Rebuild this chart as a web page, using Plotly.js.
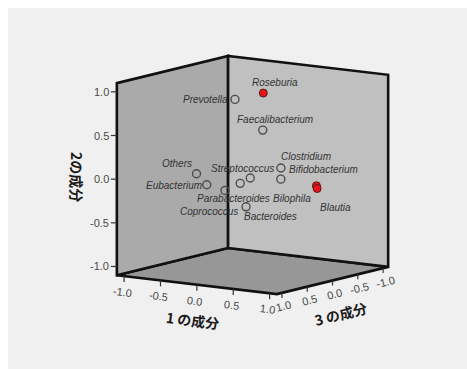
<!DOCTYPE html>
<html><head><meta charset="utf-8">
<script src="https://cdn.plot.ly/plotly-3.0.1.min.js"></script>
<style>html,body{margin:0;padding:0;background:#fff;overflow:hidden}#plot{width:467px;height:369px;}</style>
</head><body><div id="plot"></div>
<script>
// ---- Data: component loadings ----
const names = ["Roseburia","Prevotella","Faecalibacterium","Others","Eubacterium","Coprococcus","Parabacteroides","Streptococcus","Bacteroides","Clostridium","Bifidobacterium","Bilophila","Blautia"];
const comp1 = [-0.06, -0.38, 0.28, -0.70, -0.42, -0.10, -0.03, -0.17, 0.12, 0.46, 0.32, 0.67, 0.68];
const comp2 = [0.89, 0.80, 0.57, -0.04, -0.11, -0.13, -0.07, -0.08, -0.31, 0.14, -0.03, -0.10, -0.13];
const comp3 = [-0.30, -0.20, 0.20, 0.10, 0.30, 0.40, 0.20, -0.20, 0.30, 0.10, -0.10, -0.30, -0.30];
const highlighted = [true,false,false,false,false,false,false,false,false,false,false,true,true];
const tickVals = [-1.0, -0.5, 0.0, 0.5, 1.0];
const tickText = ["-1.0", "-0.5", "0.0", "0.5", "1.0"];
const axisTitles = {c1: "1 の成分", c2: "2の成分", c3: "3 の成分"};

// ---- Label placement (style, not data) ----
const labelAnchor = ["center","right","center","right","right","right","center","center","left","left","left","right","left"];
const labelDx = [12, -5, 12, -3, -3, 15, -7, -8, -4, -2, 6, -3, 1];
const labelDy = [-11, 0, -11, -10, 1, 21, 15, -10, 10, -11, -10, 13, 19];

// ---- Orthographic 3D view (rotation + scale) ----
const R = 1.1;                       // axis range [-R, R] on each component
const S = 88.6, PHI = 34.8 * Math.PI / 180, THETA = 9.8 * Math.PI / 180;
const CX = 252.5, CY = 175.0;
function proj(c1, c2, c3) {
  const X = CX + S * (Math.cos(PHI) * c1 - Math.sin(PHI) * c3);
  const Y = CY + S * (Math.sin(THETA) * (Math.sin(PHI) * c1 + Math.cos(PHI) * c3) - Math.cos(THETA) * c2);
  return [X, Y];
}
function path(pts) { return "M" + pts.map(p => p[0].toFixed(2) + "," + p[1].toFixed(2)).join(" L") + " Z"; }

const edge = {color: "#111111", width: 2.6};
const shapes = [
  {type: "rect", xref: "x", yref: "y", x0: 8, x1: 467, y0: 8, y1: 369, fillcolor: "#f0f0f0", line: {width: 0}, layer: "below"},
  // floor (2の成分 = -R)
  {type: "path", xref: "x", yref: "y", layer: "below", fillcolor: "#979797", line: edge,
   path: path([proj(-R,-R,R), proj(-R,-R,-R), proj(R,-R,-R), proj(R,-R,R)])},
  // left wall (1の成分 = -R)
  {type: "path", xref: "x", yref: "y", layer: "below", fillcolor: "#aaaaaa", line: edge,
   path: path([proj(-R,-R,R), proj(-R,-R,-R), proj(-R,R,-R), proj(-R,R,R)])},
  // back wall (3の成分 = -R)
  {type: "path", xref: "x", yref: "y", layer: "below", fillcolor: "#c0c0c0", line: edge,
   path: path([proj(-R,-R,-R), proj(R,-R,-R), proj(R,R,-R), proj(-R,R,-R)])}
];

const annotations = [];
const tickFont = {family: "Liberation Sans, Arial, sans-serif", size: 11, color: "#4a4a4a"};
const tickLine = {color: "#333333", width: 1.2};
tickVals.forEach((t, i) => {
  // 2の成分 (vertical) at left edge
  let p = proj(-R, t, R);
  shapes.push({type: "line", xref: "x", yref: "y", x0: p[0] - 6, x1: p[0], y0: p[1], y1: p[1], line: tickLine});
  annotations.push({x: p[0] - 6, y: p[1], text: tickText[i], showarrow: false, xanchor: "right", yanchor: "middle", font: tickFont});
  // 1の成分 along front-left floor edge
  p = proj(t, -R, R);
  shapes.push({type: "line", xref: "x", yref: "y", x0: p[0], x1: p[0], y0: p[1], y1: p[1] + 6, line: tickLine});
  annotations.push({x: p[0] - 2, y: p[1] + 16, text: tickText[i], showarrow: false, xanchor: "center", yanchor: "middle", textangle: 7, font: tickFont});
  // 3の成分 along front-right floor edge
  p = proj(R, -R, t);
  shapes.push({type: "line", xref: "x", yref: "y", x0: p[0], x1: p[0], y0: p[1], y1: p[1] + 5, line: tickLine});
  annotations.push({x: p[0] + 2, y: p[1] + 13.5, text: tickText[i], showarrow: false, xanchor: "center", yanchor: "middle", textangle: -14, font: tickFont});
});

const titleFont = {family: "Noto Sans CJK JP, sans-serif", size: 14, color: "#1a1a1a", weight: "bold"};
annotations.push({x: 77, y: 177, text: "<b>" + axisTitles.c2 + "</b>", showarrow: false, textangle: 90, font: titleFont, xanchor: "center", yanchor: "middle"});
annotations.push({x: 192, y: 320, text: "<b>" + axisTitles.c1 + "</b>", showarrow: false, textangle: 7, font: titleFont, xanchor: "center", yanchor: "middle"});
annotations.push({x: 340, y: 314, text: "<b>" + axisTitles.c3 + "</b>", showarrow: false, textangle: -14, font: titleFont, xanchor: "center", yanchor: "middle"});

// point labels
const labelFont = {family: "Liberation Sans, Arial, sans-serif", size: 10, color: "#333333", style: "italic"};
const P = names.map((_, i) => proj(comp1[i], comp2[i], comp3[i]));
names.forEach((n, i) => {
  annotations.push({x: P[i][0], y: P[i][1], text: "<i>" + n + "</i>", showarrow: false,
    xanchor: labelAnchor[i], yanchor: "middle", xshift: labelDx[i], yshift: -labelDy[i], font: labelFont});
});

function sel(flag) {
  const idx = names.map((_, i) => i).filter(i => highlighted[i] === flag);
  return {x: idx.map(i => P[i][0]), y: idx.map(i => P[i][1])};
}
const normal = sel(false), red = sel(true);
const traces = [
  {type: "scatter", mode: "markers", x: normal.x, y: normal.y, hoverinfo: "skip", showlegend: false,
   marker: {symbol: "circle-open", size: 8, color: "#4d4d4d", line: {width: 1.4, color: "#4d4d4d"}}},
  {type: "scatter", mode: "markers", x: red.x, y: red.y, hoverinfo: "skip", showlegend: false,
   marker: {symbol: "circle", size: 8, color: "#e8141b", line: {width: 1, color: "#5a1a1a"}}}
];

const layout = {
  width: 467, height: 369,
  margin: {l: 0, r: 0, t: 0, b: 0},
  paper_bgcolor: "#ffffff", plot_bgcolor: "rgba(0,0,0,0)",
  xaxis: {range: [0, 467], visible: false, fixedrange: true},
  yaxis: {range: [369, 0], visible: false, fixedrange: true},
  shapes: shapes, annotations: annotations, hovermode: false, showlegend: false
};
Plotly.newPlot("plot", traces, layout, {displayModeBar: false, staticPlot: true});
</script></body></html>
